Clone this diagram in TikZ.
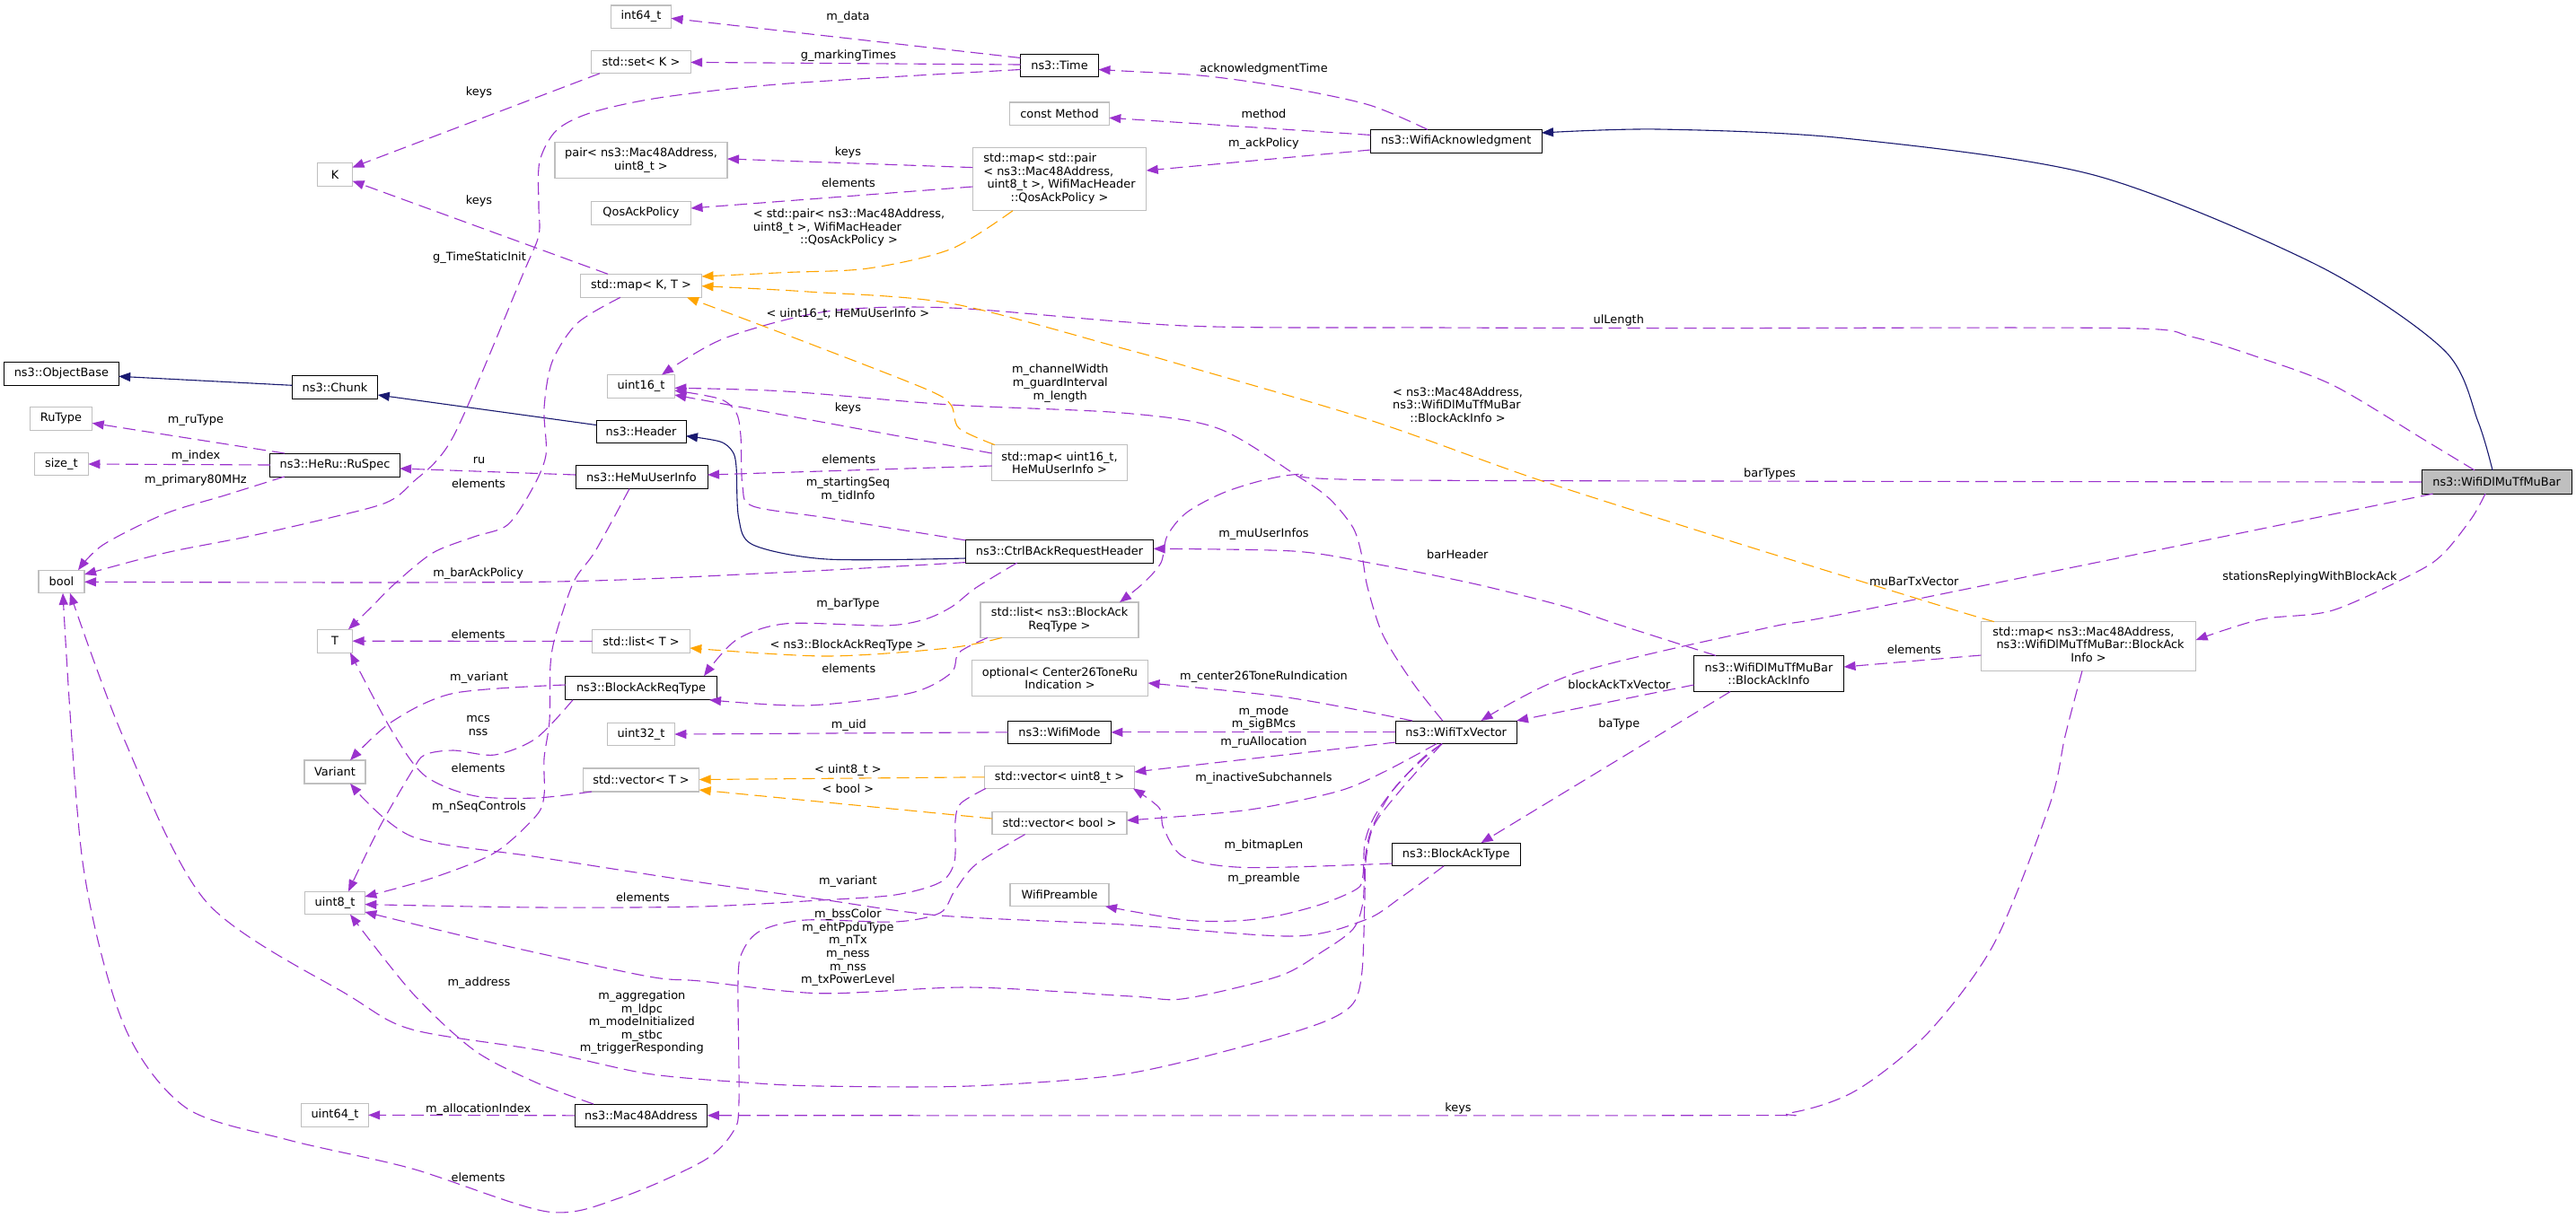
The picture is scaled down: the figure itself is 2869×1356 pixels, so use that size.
\documentclass[tikz,border=0pt]{standalone}
\usepackage{fontspec}
\setmainfont{DejaVu Sans}
\usetikzlibrary{arrows.meta}
\definecolor{usecol}{HTML}{9A32CD}
\definecolor{inhcol}{HTML}{191970}
\definecolor{tplcol}{HTML}{FFA500}
\definecolor{gry}{HTML}{BFBFBF}
\newcommand\dfont{\fontsize{6.45}{7.3}\selectfont}
\newcommand\mlc[1]{\multicolumn{1}{@{}c@{}}{#1}}
\begin{document}
\begin{tikzpicture}[x=0.5pt,y=-0.5pt,
  base/.style={inner sep=0pt, outer sep=0pt, align=center, font=\dfont, line width=0.5pt, fill=white},
  cls/.style={base, draw=black},
  ext/.style={base, draw=gry, line width=0.6pt},
  root/.style={base, draw=black, fill=gry},
  lab/.style={inner sep=0pt, align=center, font=\dfont},
  ua/.style={draw=usecol, line width=0.55pt, dash pattern=on 7pt off 3.5pt, -{Triangle[length=6.5pt,width=5pt]}},
  ta/.style={draw=tplcol, line width=0.55pt, dash pattern=on 7pt off 3.5pt, -{Triangle[length=6.5pt,width=5pt]}},
  inh/.style={draw=inhcol, line width=0.55pt, -{Triangle[length=6.5pt,width=5pt]}}]
\path[use as bounding box, fill=white] (0,0) rectangle (2869,1356);

% ---------------- nodes
\node[cls, minimum width=63.8pt, minimum height=13pt] (objbase) at (68.4,416.3) {ns3::ObjectBase};
\node[cls, minimum width=47.8pt, minimum height=12.7pt] (chunk) at (373,431.5) {ns3::Chunk};
\node[ext, minimum width=34.7pt, minimum height=12.8pt] (rutype) at (68,466.4) {RuType};
\node[ext, minimum width=29.9pt, minimum height=12.6pt] (sizet) at (68.4,517) {size\_t};
\node[cls, minimum width=72.1pt, minimum height=13pt] (ruspec) at (373,518) {ns3::HeRu::RuSpec};
\node[ext, minimum width=25.5pt, minimum height=12.8pt] (bool) at (68.5,648) {bool};
\node[ext, minimum width=19.5pt, minimum height=13pt] (K) at (373,194.3) {K};
\node[ext, minimum width=19.5pt, minimum height=13pt] (T) at (373,714.2) {T};
\node[ext, minimum width=34pt, minimum height=13pt] (variant) at (373,860) {Variant};
\node[ext, minimum width=33.3pt, minimum height=12.8pt] (uint8) at (373,1006) {uint8\_t};
\node[ext, minimum width=37.2pt, minimum height=12.8pt] (uint64) at (373,1242.3) {uint64\_t};
\node[ext, minimum width=33.5pt, minimum height=12.6pt] (int64) at (714,18.6) {int64\_t};
\node[ext, minimum width=55.2pt, minimum height=12.8pt] (setK) at (714,69) {std::set< K >};
\node[ext, minimum width=96pt, minimum height=20pt] (pair) at (714,178.7) {pair< ns3::Mac48Address,\\uint8\_t >};
\node[ext, minimum width=55.5pt, minimum height=12.8pt] (qos) at (714,237.4) {QosAckPolicy};
\node[ext, minimum width=67.5pt, minimum height=13pt] (mapKT) at (714,318.3) {std::map< K, T >};
\node[ext, minimum width=37.3pt, minimum height=12.8pt] (uint16) at (714,430.4) {uint16\_t};
\node[cls, minimum width=50pt, minimum height=12.6pt] (header) at (714,481) {ns3::Header};
\node[cls, minimum width=73.5pt, minimum height=13pt] (hemu) at (714.5,531.6) {ns3::HeMuUserInfo};
\node[ext, minimum width=54.3pt, minimum height=12.8pt] (listT) at (714,714.4) {std::list< T >};
\node[cls, minimum width=84.3pt, minimum height=13.3pt] (barqt) at (714,766.5) {ns3::BlockAckReqType};
\node[ext, minimum width=37.3pt, minimum height=12.8pt] (uint32) at (714,818) {uint32\_t};
\node[ext, minimum width=64.7pt, minimum height=13pt] (vecT) at (714,869) {std::vector< T >};
\node[cls, minimum width=73.8pt, minimum height=12.8pt] (mac48) at (714,1242.8) {ns3::Mac48Address};
\node[cls, minimum width=43.5pt, minimum height=12.8pt] (time) at (1180,73) {ns3::Time};
\node[ext, minimum width=55.3pt, minimum height=12.6pt] (method) at (1180,126.6) {const Method};
\node[ext, minimum width=96.7pt, minimum height=35pt] (mapPair) at (1180,199.7) {\begin{tabular}{@{}l@{}}std::map< std::pair\\< ns3::Mac48Address,\\\ uint8\_t >, WifiMacHeader\\\mlc{::QosAckPolicy >}\end{tabular}};
\node[ext, minimum width=75.3pt, minimum height=20pt] (mapU16) at (1180,515.6) {std::map< uint16\_t,\\HeMuUserInfo >};
\node[cls, minimum width=104.7pt, minimum height=12.6pt] (ctrl) at (1180,614.5) {ns3::CtrlBAckRequestHeader};
\node[ext, minimum width=88pt, minimum height=19.7pt] (listBAR) at (1180,690.7) {std::list< ns3::BlockAck\\ReqType >};
\node[ext, minimum width=98pt, minimum height=20.1pt] (optional) at (1180.5,755.5) {optional< Center26ToneRu\\Indication >};
\node[cls, minimum width=57.4pt, minimum height=12.8pt] (wifimode) at (1180,815.8) {ns3::WifiMode};
\node[ext, minimum width=83.4pt, minimum height=12.6pt] (vecU8) at (1180,865.8) {std::vector< uint8\_t >};
\node[ext, minimum width=75pt, minimum height=12.6pt] (vecBool) at (1180,917) {std::vector< bool >};
\node[ext, minimum width=55pt, minimum height=12.8pt] (preamble) at (1180,997) {WifiPreamble};
\node[cls, minimum width=95.3pt, minimum height=12.8pt] (wack) at (1621.7,157.2) {ns3::WifiAcknowledgment};
\node[cls, minimum width=67.3pt, minimum height=12.8pt] (wtv) at (1621.7,815.8) {ns3::WifiTxVector};
\node[cls, minimum width=71.4pt, minimum height=12.9pt] (bat) at (1621.7,952) {ns3::BlockAckType};
\node[cls, minimum width=83.5pt, minimum height=20.1pt] (bainfo) at (1970,750.5) {ns3::WifiDlMuTfMuBar\\::BlockAckInfo};
\node[ext, minimum width=119.6pt, minimum height=27.4pt] (mapBA) at (2326,720) {\begin{tabular}{@{}l@{}}std::map< ns3::Mac48Address,\\\ ns3::WifiDlMuTfMuBar::BlockAck\\\mlc{Info >}\end{tabular}};
\node[root, minimum width=83.4pt, minimum height=13.1pt] (mubar) at (2780.6,537) {ns3::WifiDlMuTfMuBar};

% ---------------- inheritance
\draw[inh] plot[smooth] coordinates {(mubar.north -| 2776,0) (2760,470) (2722,390) (2580,295) (2332,195) (2054,154) (1847,144) (wack.east |- 0,148)};
\draw[inh] (header.west |- 0,473.5) -- (chunk.east |- 0,440);
\draw[inh] (chunk.west |- 0,429.3) -- (objbase.east |- 0,419.3);
\draw[inh] plot[smooth] coordinates {(ctrl.west |- 0,622) (921,623) (838.7,607) (822.7,577) (820,520) (815.8,503) (802,492) (header.east |- 0,485.7)};

% ---------------- usage
\draw[ua] (time.west |- 0,64.5) -- (int64.east |- 0,20.4);
\draw[ua] (time.west |- 0,72) -- (setK.east |- 0,69.4);
\draw[ua] plot[smooth] coordinates {(time.west |- 0,77.5) (875.5,93.2) (737.7,108.4) (660,125) (620,145) (601,180) (600,230) (600,262) (583,304) (505,486) (459,538) (430,560) (367,577) (275,598) (184,616) (bool.east |- 0,640)};
\draw[ua] (setK.south -| 668,0) -- (K.east |- 0,186.5);
\draw[ua] (mapKT.north -| 677,0) -- (K.east |- 0,201.6);
\draw[ua] plot[smooth] coordinates {(mapKT.south -| 691,0) (643,360) (615,403) (606,455) (608,507) (592,546) (565,585) (528,598) (482,616) (440,650) (412,678) (T.north -| 388,0)};
\draw[ua] plot[smooth] coordinates {(wack.north -| 1590,0) (1525,117) (1434,97.6) (1342,84.6) (1250,79) (time.east |- 0,77.5)};
\draw[ua] (wack.west |- 0,150.4) -- (method.east |- 0,131.3);
\draw[ua] (wack.west |- 0,167) -- (mapPair.east |- 0,190);
\draw[ua] (mapPair.west |- 0,186.6) -- (pair.east |- 0,177);
\draw[ua] (mapPair.west |- 0,208) -- (qos.east |- 0,232);
\draw[ua] (mapU16.west |- 0,505) -- (uint16.east |- 0,440);
\draw[ua] (mapU16.west |- 0,519) -- (hemu.east |- 0,529);
\draw[ua] plot[smooth] coordinates {(wtv.north -| 1606.7,0) (1573,760) (1540,707) (1523,654) (1517,620) (1507,588) (1480,555) (1443,529) (1356,477) (1250,460) (1059,451) (875,436) (uint16.east |- 0,432.3)};
\draw[ua] plot[smooth] coordinates {(ctrl.north west) (921.4,577) (838.7,564) (827,542) (825,486) (820,460) (802,444.5) (uint16.east |- 0,435)};
\draw[ua] (hemu.west |- 0,529) -- (ruspec.east |- 0,522);
\draw[ua] plot[smooth] coordinates {(hemu.south -| 701,0) (663,614) (639,648) (619,707) (613,741) (612,803) (606,845) (606,886) (597,909) (551,950) (482,978) (uint8.east |- 0,999)};
\draw[ua] plot[smooth] coordinates {(barqt.south -| 638,0) (597,822.6) (551,841) (505,836) (473,841) (459,859) (422,923) (uint8.north -| 388,0)};
\draw[ua] (ruspec.north -| 316.8,0) -- (rutype.east |- 0,471.4);
\draw[ua] (ruspec.west) -- (sizet.east);
\draw[ua] plot[smooth] coordinates {(ruspec.south -| 316.8,0) (250,552) (183.7,572.4) (114.8,607) (bool.north -| 87,0)};
\draw[ua] plot[smooth] coordinates {(ctrl.west |- 0,626.6) (875.5,637.5) (600,648.3) (bool.east |- 0,648.3)};
\draw[ua] plot[smooth] coordinates {(ctrl.south -| 1132.6,0) (1086.7,655) (1060,676) (1030,690) (985.7,697) (875.5,694.8) (820,713) (barqt.north -| 784,0)};
\draw[ua] plot[smooth] coordinates {(listBAR.south -| 1100,0) (1068,727) (1059,750) (1013,772.4) (898.4,786) (barqt.south -| 790,0)};
\draw[ua] (listT.west) -- (T.east);
\draw[ua] plot[smooth] coordinates {(vecT.south -| 659,0) (597,889) (528,886.6) (473,864) (436,813.5) (T.south -| 390,0)};
\draw[ua] plot[smooth] coordinates {(barqt.west |- 0,763) (505,772.4) (436,804.4) (variant.north -| 390,0)};
\draw[ua] (wifimode.west) -- (uint32.east |- 0,818);
\draw[ua] plot[smooth] coordinates {(wtv.north -| 1573,0) (1433.6,777) (optional.east |- 0,761)};
\draw[ua] (wtv.west) -- (wifimode.east);
\draw[ua] (wtv.west |- 0,827) -- (vecU8.east |- 0,860);
\draw[ua] plot[smooth] coordinates {(wtv.south -| 1600,0) (1540,860.7) (1488.7,882) (1387.7,902.6) (vecBool.east |- 0,914)};
\draw[ua] plot[smooth] coordinates {(wtv.south -| 1606,0) (1583,846) (1550,882) (1530,911) (1520,939) (1518,975) (1511.7,990) (1473,1007) (1424,1020) (1378.6,1025.8) (1320,1025) (preamble.south -| 1231,0)};
\draw[ua] plot[smooth] coordinates {(wtv.south -| 1606,0) (1580,850) (1550,882) (1527,925) (1520,960) (1518,1005) (1507,1035) (1473,1060) (1424.5,1087.5) (1319,1112.6) (1260,1110) (1080,1100) (913,1106.7) (780,1093) (720,1087.5) (551,1051) (uint8.east |- 0,1016)};
\draw[ua] plot[smooth] coordinates {(wtv.south -| 1606,0) (1560,880) (1530,920) (1521,960) (1520,1000) (1517,1082) (1507,1118) (1473,1139) (1388,1165) (1250,1197) (1080,1210) (913,1210) (830,1206) (720,1196) (600,1170) (459,1147) (390,1110) (230,1005) (138,823) (bool.south -| 78,0)};
\draw[ua] plot[smooth] coordinates {(bat.south -| 1608,0) (1560,1000) (1520,1025) (1440,1043) (1250,1030) (1047,1020) (913,1001.7) (780,983) (600,955) (459,932) (variant.south -| 390,0)};
\draw[ua] plot[smooth] coordinates {(bat.west |- 0,962) (1387.7,966.5) (1319,955) (1296,923) (1291,900) (vecU8.south -| 1262,0)};
\draw[ua] plot[smooth] coordinates {(bainfo.north -| 1911,0) (1800,695) (1740,675) (1640,650) (1525,627) (1440,614) (ctrl.east |- 0,611.4)};
\draw[ua] (bainfo.west |- 0,763) -- (wtv.north east);
\draw[ua] (bainfo.south -| 1927,0) -- (bat.north -| 1649.5,0);
\draw[ua] (mapBA.west |- 0,730) -- (bainfo.east |- 0,743);
\draw[ua] plot[smooth] coordinates {(mapBA.south -| 2319,0) (2300,820) (2283,896) (2221,1051) (2147,1151) (2067,1215) (1993,1240) (1900,1242.7) (mac48.east |- 0,1242.7)};
\draw[ua] plot[smooth] coordinates {(mubar.north -| 2756,0) (2700,490) (2600,430) (2518,399) (2440,375) (2363,365.6) (1900,365.6) (1600,365) (1320,363) (1059,343) (921,347) (806.6,377) (uint16.north -| 737,0)};
\draw[ua] plot[smooth] coordinates {(mubar.west) (1560,535) (1447,528.3) (1373,545) (1323,570) (1300,597) (1293,627) (1273,650) (listBAR.north -| 1247,0)};
\draw[ua] plot[smooth] coordinates {(mubar.south -| 2709.6,0) (2073,680) (1970,699) (1755,750) (wtv.north -| 1649.5,0)};
\draw[ua] plot[smooth] coordinates {(mubar.south -| 2768,0) (2753,577) (2722,616) (2691,637.5) (2598,680) (2518,690) (mapBA.east |- 0,713)};
\draw[ua] plot[smooth] coordinates {(mac48.north -| 661,0) (597,1206) (528,1170) (459,1106) (uint8.south -| 390,0)};
\draw[ua] (mac48.west) -- (uint64.east);
\draw[ua] plot[smooth] coordinates {(vecU8.south -| 1098,0) (1070,895) (1064,914) (1063,960) (1047,983) (997,997) (913,1003) (780,1010) (600,1011) (uint8.east |- 0,1007.6)};
\draw[ua] plot[smooth] coordinates {(vecBool.south -| 1141.6,0) (1087,963) (1063,993) (1047,1017) (997,1027) (897,1025) (847,1037) (827,1060) (822,1093) (823,1227) (817,1260) (784,1293) (692,1334) (610,1350) (459,1302) (321,1270) (207,1234) (138,1142) (92,960) (bool.south -| 70,0)};

% ---------------- template instances
\draw[ta] plot[smooth] coordinates {(mapPair.south -| 1128,0) (1059,277.5) (967,299) (875.5,303.5) (mapKT.east |- 0,308)};
\draw[ta] plot[smooth] coordinates {(mapU16.north -| 1108,0) (1068,477) (1059,451) (1031.6,433.6) (898.4,381.6) (mapKT.south -| 765,0)};
\draw[ta] plot[smooth] coordinates {(mapBA.north -| 2221,0) (2178,680) (1970,616) (1900,594) (1709,533) (1525.5,468) (1320,407.6) (1250,388) (1059,338) (900,325) (mapKT.east |- 0,318.7)};
\draw[ta] plot[smooth] coordinates {(listBAR.south -| 1116,0) (1056.6,722) (919.6,731) (listT.east |- 0,722)};
\draw[ta] (vecU8.west) -- (vecT.east |- 0,868.5);
\draw[ta] (vecBool.west |- 0,912) -- (vecT.east |- 0,880);

% ---------------- labels
\node[lab] (l1) at (944.4,19.5) {m\_data};
\node[lab] (l2) at (945,62.4) {g\_markingTimes};
\node[lab] (l3) at (534,287.5) {g\_TimeStaticInit};
\node[lab] (l4) at (533.5,103.2) {keys};
\node[lab] (l5) at (533.5,223.8) {keys};
\node[lab] (l6) at (533,538.6) {elements};
\node[lab] (l7) at (1407.5,76.8) {acknowledgmentTime};
\node[lab] (l8) at (1407.5,127) {method};
\node[lab] (l9) at (1407.5,160.4) {m\_ackPolicy};
\node[lab] (l10) at (944.4,170.4) {keys};
\node[lab] (l11) at (945,203.4) {elements};
\node[lab] (l12) at (945.5,254.2) {\begin{tabular}{@{}l@{}}< std::pair< ns3::Mac48Address,\\uint8\_t >, WifiMacHeader\\\mlc{::QosAckPolicy >}\end{tabular}};
\node[lab] (l13) at (944.4,350.4) {< uint16\_t, HeMuUserInfo >};
\node[lab] (l14) at (1802.8,356.5) {ulLength};
\node[lab] (l15) at (1180.8,427.1) {m\_channelWidth\\m\_guardInterval\\m\_length};
\node[lab] (l16) at (944.4,455.3) {keys};
\node[lab] (l17) at (945.3,511.7) {elements};
\node[lab] (l18) at (944.4,545.5) {m\_startingSeq\\m\_tidInfo};
\node[lab] (l19) at (533.5,512.6) {ru};
\node[lab] (l20) at (218,468.8) {m\_ruType};
\node[lab] (l21) at (218,508.2) {m\_index};
\node[lab] (l22) at (218,534.7) {m\_primary80MHz};
\node[lab] (l23) at (532.6,639.6) {m\_barAckPolicy};
\node[lab] (l24) at (1623.5,453) {\begin{tabular}{@{}l@{}}< ns3::Mac48Address,\\ns3::WifiDlMuTfMuBar\\\mlc{::BlockAckInfo >}\end{tabular}};
\node[lab] (l25) at (1971,528.2) {barTypes};
\node[lab] (l26) at (1407.5,595.4) {m\_muUserInfos};
\node[lab] (l27) at (1623.3,618) {barHeader};
\node[lab] (l28) at (2131.8,648.3) {muBarTxVector};
\node[lab] (l29) at (2572.4,642.7) {stationsReplyingWithBlockAck};
\node[lab] (l30) at (2131.8,723.6) {elements};
\node[lab] (l31) at (1803.3,762.4) {blockAckTxVector};
\node[lab] (l32) at (1803.3,806.7) {baType};
\node[lab] (l33) at (1407.5,754.2) {m\_center26ToneRuIndication};
\node[lab] (l34) at (1407.5,800) {m\_mode\\m\_sigBMcs};
\node[lab] (l35) at (1407.5,827.2) {m\_ruAllocation};
\node[lab] (l36) at (1407.5,867.4) {m\_inactiveSubchannels};
\node[lab] (l37) at (1407.5,942.3) {m\_bitmapLen};
\node[lab] (l38) at (1407.5,979.3) {m\_preamble};
\node[lab] (l39) at (1624,1234.5) {keys};
\node[lab] (l40) at (944.4,672.9) {m\_barType};
\node[lab] (l41) at (944.4,718.5) {< ns3::BlockAckReqType >};
\node[lab] (l42) at (945.3,744.6) {elements};
\node[lab] (l43) at (945.3,808) {m\_uid};
\node[lab] (l44) at (944.4,858.3) {< uint8\_t >};
\node[lab] (l45) at (944.4,878.8) {< bool >};
\node[lab] (l46) at (944.4,982.5) {m\_variant};
\node[lab] (l47) at (716,999.4) {elements};
\node[lab] (l48) at (944.4,1055.8) {m\_bssColor\\m\_ehtPpduType\\m\_nTx\\m\_ness\\m\_nss\\m\_txPowerLevel};
\node[lab] (l49) at (714.8,1139.3) {m\_aggregation\\m\_ldpc\\m\_modeInitialized\\m\_stbc\\m\_triggerResponding};
\node[lab] (l50) at (532.6,706.2) {elements};
\node[lab] (l51) at (533.5,755.5) {m\_variant};
\node[lab] (l52) at (532.6,808.3) {mcs\\nss};
\node[lab] (l53) at (532.6,855.5) {elements};
\node[lab] (l54) at (533.5,899.4) {m\_nSeqControls};
\node[lab] (l55) at (533.5,1095.3) {m\_address};
\node[lab] (l56) at (532.6,1235.9) {m\_allocationIndex};
\node[lab] (l57) at (532.6,1311.2) {elements};
\end{tikzpicture}
\end{document}
